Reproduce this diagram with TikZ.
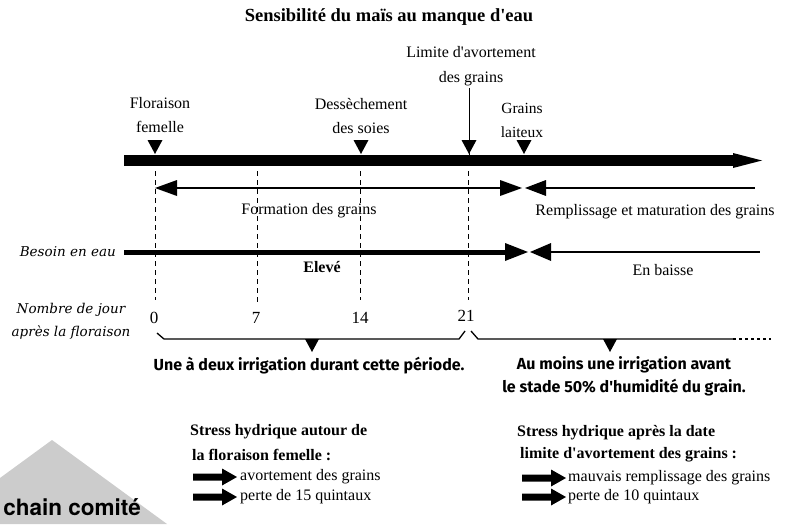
\documentclass[tikz,border=0pt]{standalone}
\usepackage{fontspec}
\setmainfont{Liberation Serif}[Ligatures=TeXOff]
\newfontfamily\itfont{DejaVu Serif}[Ligatures=TeXOff]
\newfontfamily\comicfont{Fira Sans}[Ligatures=TeXOff]
\newfontfamily\herosfont{TeX Gyre Heros}
\definecolor{trigrey}{RGB}{204,204,204}
\tikzset{
  lbl/.style={inner sep=0pt, align=center, font=\fontsize{16}{24}\selectfont},
  ital/.style={inner sep=0pt, align=center, font=\itfont\itshape\fontsize{13.5}{23}\selectfont},
  comic/.style={inner sep=0pt, align=center, font=\comicfont\bfseries\fontsize{16}{23}\selectfont},
  head/.style={inner sep=0pt, anchor=west, font=\bfseries\fontsize{16}{20}\selectfont},
  item/.style={inner sep=0pt, anchor=west, font=\fontsize{16}{20}\selectfont},
  dashv/.style={line width=0.9pt, dash pattern=on 5pt off 4pt},
  blockarrow/.pic={\fill (0,-3.5) -- (29,-3.5) -- (29,-8.5) -- (44,0) -- (29,8.5) -- (29,3.5) -- (0,3.5) -- cycle;}
}
\begin{document}
\begin{tikzpicture}[x=1pt,y=-1pt]
\useasboundingbox (0,0) rectangle (791,524);
% grey triangle
\fill[trigrey] (0,478) -- (52,440) -- (167,524) -- (0,524) -- cycle;
\node[anchor=east, inner sep=0pt, font=\herosfont\bfseries\fontsize{22.5}{24}\selectfont] (pc) at (141,507) {chain comité};
% title
\node[inner sep=0pt, font=\bfseries\fontsize{18.5}{22}\selectfont] (title) at (389,17) {Sensibilité du maïs au manque d'eau};
% event labels
\node[lbl] (flo) at (160,115) {Floraison\\femelle};
\node[lbl] (des) at (361,116) {Dessèchement\\des soies};
\node[lbl, font=\fontsize{16}{25}\selectfont] (lim) at (471,66.5) {Limite d'avortement\\des grains};
\node[lbl, font=\fontsize{15.5}{24}\selectfont] (lai) at (522,120) {Grains\\laiteux};
% main bar
\coordinate (barL) at (124,160.5);
\coordinate (barR) at (735,160.5);
\draw[line width=11pt] (barL) -- (barR);
\fill (733,153) -- (762,160.5) -- (733,168) -- cycle;
% markers
\coordinate (mF) at (155,154);
\coordinate (mD) at (361,154);
\coordinate (mL) at (469,154);
\coordinate (mG) at (524,154);
\foreach \m in {mF,mD,mL,mG}{\fill (\m) ++(-7.5,-14) -- ++(15,0) -- ++(-7.5,14) -- cycle;}
\coordinate (limTop) at (469,88);
\draw[line width=1pt] (limTop) -- ([yshift=-12pt]mL);
% dashed verticals
\coordinate (d0t) at (155,171); \coordinate (d0b) at (155,300);
\coordinate (d7t) at (257,171); \coordinate (d7b) at (257,302);
\coordinate (d14t) at (360,171); \coordinate (d14b) at (360,300);
\coordinate (d21t) at (468,171); \coordinate (d21b) at (468,300);
\draw[dashv] (d0t) -- (d0b);
\draw[dashv] (d7t) -- (d7b);
\draw[dashv] (d14t) -- (d14b);
\draw[dashv] (d21t) -- (d21b);
% formation des grains line
\coordinate (fA) at (155,188); \coordinate (fB) at (522,188);
\coordinate (rA) at (525,188); \coordinate (rB) at (755,188);
\draw[line width=1.2pt] ([xshift=20pt]fA) -- ([xshift=-20pt]fB);
\fill (fA) -- ++(22,-8) -- ++(0,16) -- cycle;
\fill (fB) -- ++(-22,-8) -- ++(0,16) -- cycle;
\fill (rA) -- ++(21,-8) -- ++(0,16) -- cycle;
\draw[line width=1.2pt] ([xshift=20pt]rA) -- (rB);
\node[lbl] (form) at (309,211) {Formation des grains};
\node[lbl] (remp) at (655,212) {Remplissage et maturation des grains};
% besoin en eau
\node[ital, anchor=east] (bes) at (116,252) {Besoin en eau};
\coordinate (bA) at (124,252); \coordinate (bB) at (528,252);
\coordinate (cA) at (530,252); \coordinate (cB) at (760,252);
\draw[line width=5pt] (bA) -- ([xshift=-20pt]bB);
\fill (bB) -- ++(-23,-9) -- ++(0,18) -- cycle;
\fill (cA) -- ++(21,-9) -- ++(0,18) -- cycle;
\draw[line width=1.2pt] ([xshift=20pt]cA) -- (cB);
\node[lbl, font=\bfseries\fontsize{16}{20}\selectfont] (elev) at (322,267) {Elevé};
\node[lbl] (baisse) at (663,270) {En baisse};
% jours
\node[ital] (nbj) at (71,321.5) {Nombre de jour\\après la floraison};
\node[lbl, font=\fontsize{17}{20}\selectfont] (n0) at (154,318) {0};
\node[lbl, font=\fontsize{17}{20}\selectfont] (n7) at (256,318) {7};
\node[lbl, font=\fontsize{17}{20}\selectfont] (n14) at (360,318) {14};
\node[lbl, font=\fontsize{17}{20}\selectfont] (n21) at (466,316) {21};
% braces
\coordinate (b1a) at (157,333); \coordinate (b1b) at (465,331);
\draw[line width=1.3pt] (b1a) -- (164,339) -- (459,339) -- (b1b);
\fill (305,339) -- (319,339) -- (312,352) -- cycle;
\coordinate (b2a) at (471,331); \coordinate (b2b) at (733,339); \coordinate (b2c) at (771,339);
\draw[line width=1.3pt] (b2a) -- (478,339) -- (b2b);
\draw[line width=1.6pt, dash pattern=on 3pt off 3pt] (b2b) -- (b2c);
\fill (603,339) -- (617,339) -- (610,352) -- cycle;
\node[comic] (irr1) at (309,366) {Une à deux irrigation durant cette période.};
\node[comic] (irr2) at (624,376.5) {Au moins une irrigation avant\\le stade 50\% d'humidité du grain.};
% stress blocks
\node[head] (s1a) at (190,432) {Stress hydrique autour de};
\node[head] (s1b) at (192,455) {la floraison femelle :};
\pic at (193,477) {blockarrow};
\node[item] (s1c) at (240,477) {avortement des grains};
\pic at (193,497) {blockarrow};
\node[item] (s1d) at (240,497) {perte de 15 quintaux};
\node[head] (s2a) at (517,433) {Stress hydrique après la date};
\node[head] (s2b) at (520,455) {limite d'avortement des grains :};
\pic at (522,478) {blockarrow};
\node[item] (s2c) at (568,478) {mauvais remplissage des grains};
\pic at (522,497) {blockarrow};
\node[item] (s2d) at (568,497) {perte de 10 quintaux};
\end{tikzpicture}
\end{document}
